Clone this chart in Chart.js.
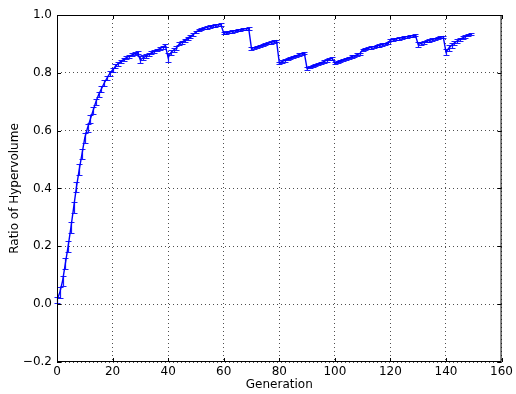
<!DOCTYPE html>
<html lang="en">
<head>
<meta charset="utf-8">
<title>Ratio of Hypervolume</title>
<script src="https://cdn.jsdelivr.net/npm/chart.js@4.4.0/dist/chart.umd.min.js"></script>
<style>
    html, body { margin: 0; padding: 0; background: #fff; }
    #wrap { width: 516px; height: 394px; }
</style>
</head>
<body>
<div id="wrap"><canvas id="hvChart" width="516" height="394"></canvas></div>
<script>
// mean ratio per generation (index = generation)
const ratioMean = [
    0.015, 0.04, 0.08, 0.14, 0.2, 0.265, 0.335, 0.405, 0.465, 0.52,
    0.575, 0.61, 0.64, 0.67, 0.7, 0.725, 0.745, 0.765, 0.782, 0.798,
    0.81, 0.822, 0.832, 0.84, 0.847, 0.853, 0.858, 0.862, 0.866, 0.869,
    0.845, 0.852, 0.858, 0.864, 0.869, 0.874, 0.879, 0.884, 0.889, 0.894,
    0.853, 0.87, 0.879, 0.886, 0.9, 0.906, 0.913, 0.92, 0.926, 0.932,
    0.942, 0.947, 0.951, 0.954, 0.957, 0.96, 0.962, 0.964, 0.966, 0.967,
    0.937, 0.939, 0.941, 0.943, 0.945, 0.947, 0.949, 0.951, 0.952, 0.953,
    0.884, 0.887, 0.89, 0.893, 0.896, 0.899, 0.902, 0.905, 0.908, 0.911,
    0.835, 0.839, 0.843, 0.847, 0.851, 0.855, 0.859, 0.863, 0.866, 0.869,
    0.815, 0.819, 0.823, 0.827, 0.831, 0.835, 0.839, 0.843, 0.847, 0.85,
    0.835, 0.838, 0.842, 0.845, 0.849, 0.852, 0.856, 0.859, 0.863, 0.866,
    0.88, 0.883, 0.885, 0.888, 0.89, 0.893, 0.895, 0.898, 0.9, 0.902,
    0.913, 0.915, 0.917, 0.919, 0.921, 0.923, 0.925, 0.927, 0.928, 0.93,
    0.898, 0.902, 0.905, 0.909, 0.912, 0.915, 0.918, 0.92, 0.923, 0.925,
    0.872, 0.885, 0.895, 0.903, 0.91, 0.916, 0.921, 0.926, 0.931, 0.935
];

// half-height of the error bar per generation
const ratioErr = [
    0.01, 0.018, 0.018, 0.018, 0.018, 0.018, 0.018, 0.018, 0.018, 0.018,
    0.016, 0.014, 0.013, 0.012, 0.011, 0.01, 0.01, 0.01, 0.008, 0.008,
    0.008, 0.007, 0.007, 0.006, 0.006, 0.006, 0.005, 0.005, 0.005, 0.005,
    0.012, 0.008, 0.006, 0.005, 0.005, 0.005, 0.005, 0.005, 0.005, 0.005,
    0.016, 0.01, 0.007, 0.006, 0.005, 0.005, 0.005, 0.005, 0.005, 0.005,
    0.004, 0.004, 0.004, 0.004, 0.004, 0.004, 0.004, 0.004, 0.004, 0.004,
    0.004, 0.004, 0.004, 0.004, 0.004, 0.004, 0.004, 0.004, 0.004, 0.004,
    0.004, 0.004, 0.004, 0.004, 0.004, 0.004, 0.004, 0.004, 0.004, 0.004,
    0.004, 0.004, 0.004, 0.004, 0.004, 0.004, 0.004, 0.004, 0.004, 0.004,
    0.005, 0.004, 0.004, 0.004, 0.004, 0.004, 0.004, 0.004, 0.004, 0.004,
    0.004, 0.004, 0.004, 0.004, 0.004, 0.004, 0.004, 0.004, 0.004, 0.004,
    0.004, 0.004, 0.004, 0.004, 0.004, 0.004, 0.004, 0.004, 0.004, 0.004,
    0.004, 0.004, 0.004, 0.004, 0.004, 0.004, 0.004, 0.004, 0.004, 0.004,
    0.008, 0.006, 0.005, 0.004, 0.004, 0.004, 0.004, 0.004, 0.004, 0.004,
    0.012, 0.01, 0.008, 0.007, 0.006, 0.005, 0.005, 0.004, 0.004, 0.004
];

const xTicks = [0, 20, 40, 60, 80, 100, 120, 140, 160];
const yTicks = [-0.2, 0.0, 0.2, 0.4, 0.6, 0.8, 1.0];

const points = ratioMean.map((v, i) => ({x: i, y: v}));
const font = {family: 'DejaVu Sans', size: 12};

// vertical error bars with caps, drawn on the chart scales
const errorBars = {
    id: 'errorBars',
    afterDatasetsDraw(chart) {
        const {ctx, scales: {x, y}} = chart;
        ctx.save();
        ctx.strokeStyle = 'rgba(0, 0, 255, 0.9)';
        ctx.lineWidth = 1.2;
        ratioMean.forEach((m, i) => {
            const px = Math.round(x.getPixelForValue(i)) + 0.5;
            const top = Math.round(y.getPixelForValue(m + ratioErr[i])) + 0.5;
            const bot = Math.round(y.getPixelForValue(m - ratioErr[i])) + 0.5;
            ctx.beginPath();
            ctx.moveTo(px, top); ctx.lineTo(px, bot);
            ctx.moveTo(px - 3, top); ctx.lineTo(px + 3, top);
            ctx.moveTo(px - 3, bot); ctx.lineTo(px + 3, bot);
            ctx.stroke();
        });
        ctx.restore();
    }
};

// black frame with inward tick marks
const frame = {
    id: 'frame',
    afterDraw(chart) {
        const {ctx, chartArea: a, scales: {x, y}} = chart;
        ctx.save();
        ctx.strokeStyle = '#000';
        ctx.lineWidth = 1;
        ctx.strokeRect(a.left + 0.5, a.top + 0.5, a.right - a.left - 1, a.bottom - a.top - 1);
        ctx.beginPath();
        xTicks.forEach(v => {
            const px = Math.round(x.getPixelForValue(v)) + 0.5;
            ctx.moveTo(px, a.bottom); ctx.lineTo(px, a.bottom - 4);
            ctx.moveTo(px, a.top); ctx.lineTo(px, a.top + 4);
        });
        yTicks.forEach(v => {
            const py = Math.round(y.getPixelForValue(v)) + 0.5;
            ctx.moveTo(a.left, py); ctx.lineTo(a.left + 4, py);
            ctx.moveTo(a.right, py); ctx.lineTo(a.right - 4, py);
        });
        ctx.stroke();
        ctx.restore();
    }
};

new Chart(document.getElementById('hvChart').getContext('2d'), {
    type: 'line',
    data: {
        datasets: [{
            data: points,
            borderColor: '#0000ff',
            borderWidth: 1.4,
            pointRadius: 0,
            tension: 0
        }]
    },
    options: {
        responsive: false,
        animation: false,
        layout: {padding: {top: 15, right: 13, left: 0, bottom: 0}},
        plugins: {legend: {display: false}, tooltip: {enabled: false}},
        scales: {
            x: {
                type: 'linear',
                min: 0,
                max: 160,
                afterBuildTicks: s => { s.ticks = xTicks.map(v => ({value: v})); },
                afterFit: s => { s.height = 32; },
                grid: {color: '#222', lineWidth: 0.8, drawTicks: false},
                border: {display: false, dash: [1, 3]},
                ticks: {font: font, color: '#000', padding: 3, maxRotation: 0, autoSkip: false},
                title: {display: true, text: 'Generation', font: font, color: '#000', padding: {top: 0, bottom: 2}}
            },
            y: {
                min: -0.2,
                max: 1.0,
                afterBuildTicks: s => { s.ticks = yTicks.map(v => ({value: v})); },
                afterFit: s => { s.width = 57; },
                grid: {color: '#222', lineWidth: 0.8, drawTicks: false},
                border: {display: false, dash: [1, 3]},
                ticks: {
                    font: font, color: '#000', padding: 5, autoSkip: false,
                    callback: v => v.toFixed(1).replace('-', '\u2212')
                },
                title: {display: true, text: 'Ratio of Hypervolume', font: font, color: '#000', padding: {top: 8, bottom: 0}}
            }
        }
    },
    plugins: [errorBars, frame]
});
</script>
</body>
</html>
